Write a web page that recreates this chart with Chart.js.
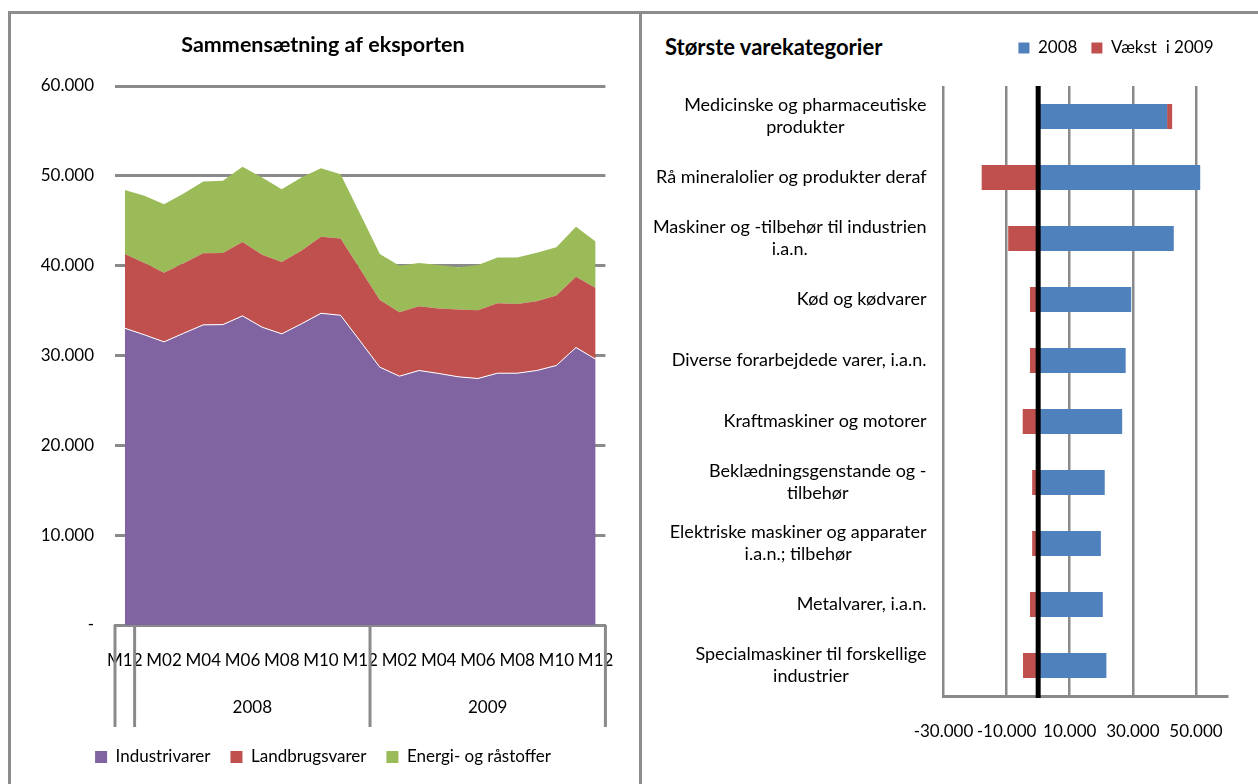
<!DOCTYPE html>
<html>
<head>
<meta charset="utf-8">
<script src="https://cdn.jsdelivr.net/npm/chart.js@4.4.1/dist/chart.umd.min.js"></script>
<style>
    body { margin: 0; width: 1258px; height: 784px; overflow: hidden; background: #fff; position: relative; font-family: Lato, sans-serif; }
    .rule { position: absolute; background: #8c8c8c; }
    #rightTitle { position: absolute; left: 665px; top: 34px; line-height: 26px; font-size: 22px; font-weight: bold; color: #000; }
</style>
</head>
<body>
<div class="rule" style="left:8px; top:11px; right:0; height:3px"></div>
<div class="rule" style="left:8px; top:11px; width:3px; bottom:0"></div>
<div class="rule" style="left:639px; top:11px; width:3px; bottom:0"></div>
<canvas id="mixChart" width="628" height="770" style="position:absolute; left:11px; top:14px"></canvas>
<div id="rightTitle">Største varekategorier</div>
<canvas id="goodsChart" width="616" height="770" style="position:absolute; left:642px; top:14px"></canvas>
<script>
// left chart: export mix per month, mio. kr.
const months = ['M12', 'M01', 'M02', 'M03', 'M04', 'M05', 'M06', 'M07', 'M08', 'M09', 'M10', 'M11', 'M12',
    'M01', 'M02', 'M03', 'M04', 'M05', 'M06', 'M07', 'M08', 'M09', 'M10', 'M11', 'M12'];
const industrivarer = [33030, 32300, 31520, 32480, 33410, 33440, 34410, 33150, 32410, 33520, 34700, 34480, 31600,
    28700, 27700, 28330, 28000, 27630, 27440, 28030, 28030, 28330, 28890, 30890, 29590];
const landbrugsvarer = [8270, 8000, 7700, 7780, 7960, 7970, 8220, 8070, 8000, 8150, 8520, 8550, 8000,
    7490, 7110, 7150, 7220, 7480, 7600, 7780, 7710, 7710, 7780, 7890, 7930];
const energiRaastoffer = [7110, 7480, 7630, 7780, 8000, 8030, 8370, 8590, 8110, 8140, 7630, 7160, 6140,
    5110, 5190, 4820, 4860, 4700, 5040, 5110, 5180, 5400, 5370, 5550, 5180];
const years = ['2008', '2009'];
const yearStarts = [1, 13];

// right chart: largest goods categories
const goods = [
    ['Medicinske og pharmaceutiske', 'produkter'],
    'Rå mineralolier og produkter deraf',
    ['Maskiner og -tilbehør til industrien', 'i.a.n.'],
    'Kød og kødvarer',
    'Diverse forarbejdede varer, i.a.n.',
    'Kraftmaskiner og motorer',
    ['Beklædningsgenstande og -', 'tilbehør'],
    ['Elektriske maskiner og apparater', 'i.a.n.; tilbehør'],
    'Metalvarer, i.a.n.',
    ['Specialmaskiner til forskellige', 'industrier']
];
const value2008 = [40860, 51350, 42980, 29480, 27730, 26620, 21100, 19870, 20480, 21620];
const growth2009 = [1600, -17900, -9500, -2600, -2600, -4900, -1900, -1900, -2600, -4800];
const goodsTicks = [-30000, -10000, 10000, 30000, 50000];

const gray = '#8a8a8a';
Chart.defaults.font.family = 'Lato, sans-serif';
Chart.defaults.font.size = 17;
Chart.defaults.color = '#000';

function dk(v) {
    let s = String(Math.abs(v)).replace(/\B(?=(\d{3})+(?!\d))/g, '.');
    return (v < 0 ? '-' : '') + s;
}

// year groups under the month labels
const yearGroups = {
    id: 'yearGroups',
    afterDraw(chart) {
        let x = chart.scales.x;
        let area = chart.chartArea;
        let ctx = chart.ctx;
        let half = (x.getPixelForValue(1) - x.getPixelForValue(0)) / 2;
        let cuts = [0].concat(yearStarts, [months.length]);
        ctx.save();
        ctx.strokeStyle = gray;
        ctx.lineWidth = 3;
        cuts.forEach(c => {
            let px = x.getPixelForValue(c) - half;
            ctx.beginPath();
            ctx.moveTo(px, area.bottom);
            ctx.lineTo(px, area.bottom + 102);
            ctx.stroke();
        });
        ctx.fillStyle = '#000';
        ctx.font = '17px Lato, sans-serif';
        ctx.textAlign = 'center';
        ctx.textBaseline = 'middle';
        years.forEach((y, i) => {
            let a = x.getPixelForValue(cuts[i + 1]) - half;
            let b = x.getPixelForValue(cuts[i + 2]) - half;
            ctx.fillText(y, (a + b) / 2, area.bottom + 83);
        });
        ctx.restore();
    }
};

new Chart('mixChart', {
    type: 'line',
    data: {
        labels: months,
        datasets: [{
            label: 'Industrivarer',
            data: industrivarer,
            backgroundColor: '#8064A2',
            borderColor: '#ffffff',
            borderWidth: 1,
            fill: 'origin'
        }, {
            label: 'Landbrugsvarer',
            data: landbrugsvarer,
            backgroundColor: '#C0504D',
            borderWidth: 0,
            fill: '-1'
        }, {
            label: 'Energi- og råstoffer',
            data: energiRaastoffer,
            backgroundColor: '#9BBB59',
            borderWidth: 0,
            fill: '-1'
        }]
    },
    options: {
        responsive: false,
        animation: false,
        layout: { padding: { left: 28, right: 32, top: 0, bottom: 8.5 } },
        elements: { point: { radius: 0 }, line: { tension: 0 } },
        scales: {
            x: {
                offset: true,
                grid: { display: false, drawTicks: false },
                border: { display: true, color: gray, width: 3 },
                ticks: {
                    autoSkip: false,
                    maxRotation: 0,
                    minRotation: 0,
                    padding: 25,
                    callback: (v, i) => i % 2 === 0 ? months[i] : ''
                },
                afterFit: s => { s.height = 103.5; }
            },
            y: {
                stacked: true,
                min: 0,
                max: 60000,
                ticks: { stepSize: 10000, padding: 21, callback: v => v === 0 ? '-' : dk(v) },
                grid: { color: gray, lineWidth: 3, drawTicks: false },
                border: { display: false },
                afterFit: s => { s.width = 76; }
            }
        },
        plugins: {
            title: {
                display: true,
                text: 'Sammensætning af eksporten',
                font: { size: 21.5, weight: 'bold' },
                padding: { top: 18, bottom: 28.2 }
            },
            legend: {
                position: 'bottom',
                labels: {
                    boxWidth: 12,
                    boxHeight: 12,
                    padding: 20,
                    generateLabels: chart => Chart.defaults.plugins.legend.labels.generateLabels(chart)
                        .map(l => Object.assign(l, { strokeStyle: l.fillStyle, lineWidth: 0 }))
                }
            },
            tooltip: { enabled: false }
        }
    },
    plugins: [yearGroups]
});

// category names drawn as centred blocks, right aligned against the plot
const goodsLabels = {
    id: 'goodsLabels',
    afterDraw(chart) {
        let y = chart.scales.y;
        let ctx = chart.ctx;
        let right = chart.chartArea.left - 17;
        ctx.save();
        ctx.font = '18px Lato, sans-serif';
        ctx.fillStyle = '#000';
        ctx.textAlign = 'center';
        ctx.textBaseline = 'middle';
        goods.forEach((g, i) => {
            let lines = [].concat(g);
            let w = Math.max(...lines.map(l => ctx.measureText(l).width));
            let cy = y.getPixelForValue(i);
            lines.forEach((l, k) => {
                ctx.fillText(l, right - w / 2, cy + (k - (lines.length - 1) / 2) * 22);
            });
        });
        ctx.restore();
    }
};

// thick zero line on top of the bars
const zeroLine = {
    id: 'zeroLine',
    afterDatasetsDraw(chart) {
        let x = chart.scales.x.getPixelForValue(0);
        let area = chart.chartArea;
        let ctx = chart.ctx;
        ctx.save();
        ctx.strokeStyle = '#000';
        ctx.lineWidth = 5;
        ctx.beginPath();
        ctx.moveTo(x, area.top);
        ctx.lineTo(x, area.bottom + 2);
        ctx.stroke();
        ctx.restore();
    }
};

const legendGap = {
    id: 'legendGap',
    beforeInit(chart) {
        let fit = chart.legend.fit;
        chart.legend.fit = function () {
            fit.call(this);
            this.height += 19.5;
        };
    }
};

new Chart('goodsChart', {
    type: 'bar',
    data: {
        labels: goods,
        datasets: [{
            label: '2008',
            data: value2008,
            backgroundColor: '#4F81BD'
        }, {
            label: 'Vækst  i 2009',
            data: growth2009,
            backgroundColor: '#C0504D'
        }]
    },
    options: {
        indexAxis: 'y',
        responsive: false,
        animation: false,
        layout: { padding: { left: 0, right: 30.5, top: 11.5, bottom: 28 } },
        datasets: { bar: { categoryPercentage: 0.8, barPercentage: 0.51 } },
        scales: {
            x: {
                stacked: true,
                min: -30000,
                max: 60000,
                afterBuildTicks: s => { s.ticks = goodsTicks.map(v => ({ value: v })); },
                ticks: { padding: 25, maxRotation: 0, callback: v => dk(v) },
                grid: { color: gray, lineWidth: 2.5, drawTicks: false },
                border: { display: true, color: gray, width: 3 },
                afterFit: s => { s.height = 60; }
            },
            y: {
                stacked: true,
                grid: { display: false, drawTicks: false },
                border: { display: false },
                ticks: { display: false },
                afterFit: s => { s.width = 301.5; }
            }
        },
        plugins: {
            legend: {
                position: 'top',
                align: 'end',
                labels: { boxWidth: 11, boxHeight: 11, padding: 14 }
            },
            tooltip: { enabled: false }
        }
    },
    plugins: [goodsLabels, zeroLine, legendGap]
});
</script>
</body>
</html>
